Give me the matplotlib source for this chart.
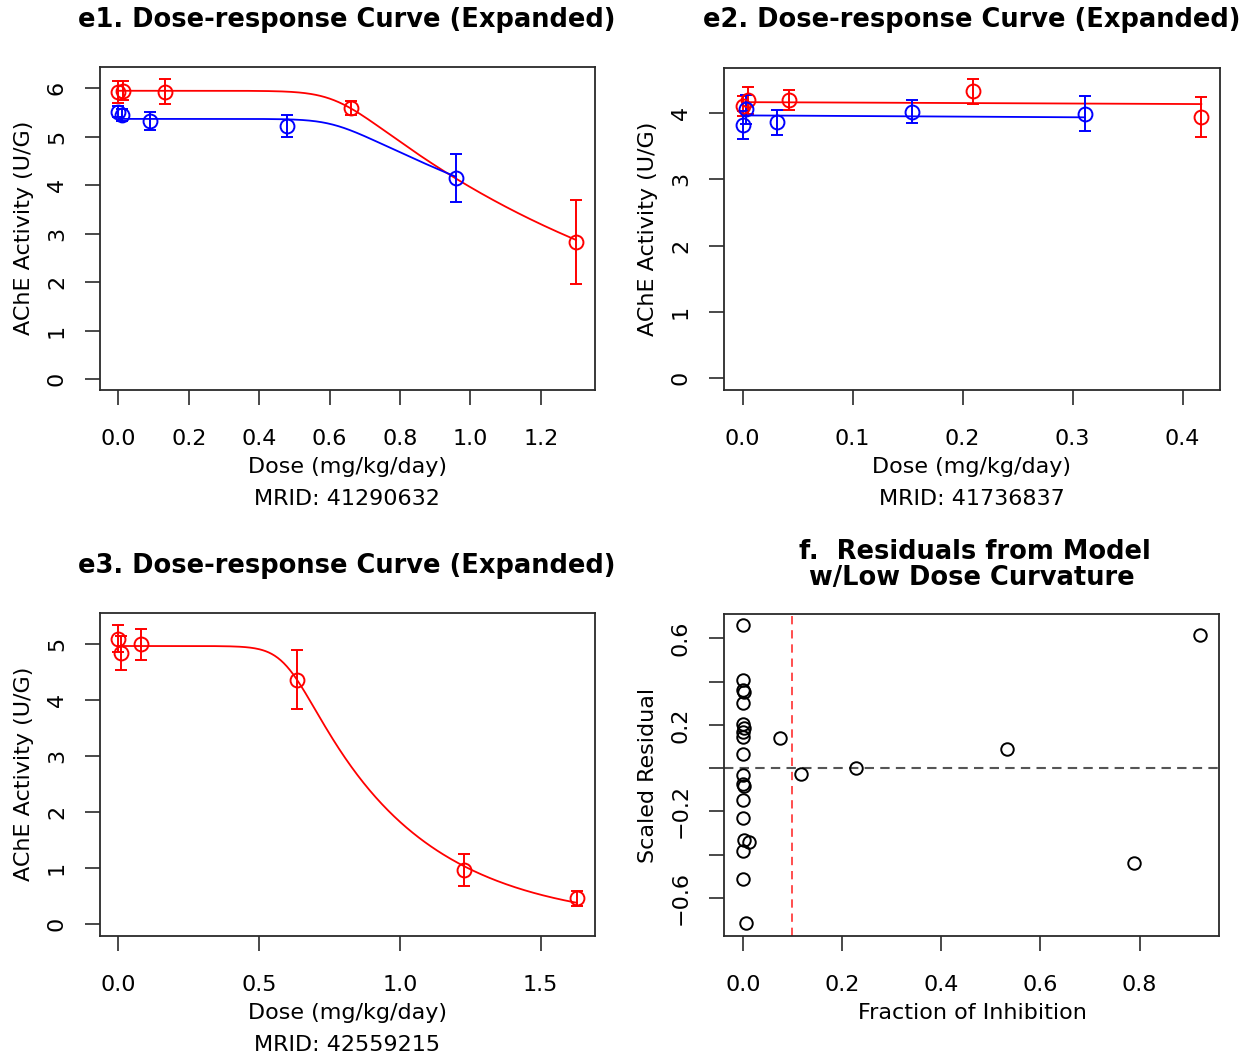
import numpy as np
import matplotlib
matplotlib.use("Agg")
import matplotlib.pyplot as plt

# ---------------- data ----------------
# e1 (MRID 41290632)
e1_red_dose = [0.0, 0.014, 0.133, 0.661, 1.30]
e1_red_resp = [5.93, 5.95, 5.93, 5.59, 2.83]
e1_red_err = [0.23, 0.20, 0.26, 0.14, 0.86]
e1_blue_dose = [0.0, 0.011, 0.09, 0.478, 0.959]
e1_blue_resp = [5.52, 5.45, 5.33, 5.23, 4.15]
e1_blue_err = [0.12, 0.12, 0.18, 0.23, 0.50]
e1_red_fit = [5.95, 1.07, 0.62, 0.05]    # top, rate, threshold, smoothness
e1_blue_fit = [5.37, 0.72, 0.61, 0.045]

# e2 (MRID 41736837)
e2_red_dose = [0.0, 0.0045, 0.0424, 0.209, 0.417]
e2_red_resp = [4.10, 4.19, 4.20, 4.33, 3.94]
e2_red_err = [0.15, 0.20, 0.15, 0.19, 0.30]
e2_blue_dose = [0.0, 0.003, 0.031, 0.154, 0.311]
e2_blue_resp = [3.82, 4.06, 3.86, 4.02, 3.99]
e2_blue_err = [0.21, 0.22, 0.19, 0.17, 0.26]
e2_red_fit = [4.165, 0.017, 0.0, 0.01]
e2_blue_fit = [3.965, 0.024, 0.0, 0.01]

# e3 (MRID 42559215)
e3_red_dose = [0.0, 0.008, 0.08, 0.633, 1.228, 1.628]
e3_red_resp = [5.10, 4.84, 5.00, 4.37, 0.965, 0.46]
e3_red_err = [0.24, 0.30, 0.28, 0.53, 0.29, 0.13]
e3_red_fit = [4.97, 2.5, 0.60, 0.045]

# f residuals
f_fraction = [0.0, 0.0, 0.0, 0.002, 0.0, 0.0, 0.002, 0.0, 0.0, 0.0,
              0.0, 0.0, 0.002, 0.0, 0.0, 0.002, 0.012, 0.0, 0.0, 0.006,
              0.074, 0.117, 0.229, 0.533, 0.788, 0.921]
f_residual = [0.659, 0.409, 0.360, 0.352, 0.299, 0.204, 0.185, 0.165, 0.142, 0.066,
              -0.031, -0.072, -0.084, -0.146, -0.231, -0.333, -0.342, -0.383, -0.513, -0.716,
              0.141, -0.028, 0.003, 0.087, -0.440, 0.616]
f_cutoff = 0.1

titles = ["e1. Dose-response Curve (Expanded)",
          "e2. Dose-response Curve (Expanded)",
          "e3. Dose-response Curve (Expanded)"]
mrids = ["MRID: 41290632", "MRID: 41736837", "MRID: 42559215"]

# ---------------- figure ----------------
W, H = 1255, 1061
plt.rcParams['font.family'] = ['DejaVu Sans']
fig = plt.figure(figsize=(W / 100, H / 100), dpi=100)

FS = 16
TFS = 18.5
FRAME = '#2a2a2a'


def add_ax(l, t, r, b):
    return fig.add_axes([l / W, 1 - b / H, (r - l) / W, (b - t) / H])


def ftext(x, y, s, **kw):
    fig.text(x / W, 1 - y / H, s, ha='center', va='center', **kw)


def fitted(x, p):
    top, rate, thr, w = p
    s = w * np.log1p(np.exp((x - thr) / w))
    return top * np.exp(-rate * s)


def style(ax, xlim, ylim, xt, yt, ylabels=None):
    ax.set_xlim(*xlim)
    ax.set_ylim(*ylim)
    ax.set_xticks(xt)
    ax.set_xticklabels([f"{v:.1f}" for v in xt])
    ax.set_yticks(yt)
    if ylabels is None:
        ylabels = [f"{v:g}" for v in yt]
    ax.set_yticklabels(ylabels, rotation=90, va='center')
    ax.tick_params(direction='out', length=10.8, width=1.2, color=FRAME,
                   labelsize=FS, pad=17)
    ax.tick_params(axis='y', pad=13)
    for sp in ax.spines.values():
        sp.set_color(FRAME)
        sp.set_linewidth(1.3)


def series(ax, dose, resp, err, fitp, color):
    xs = np.linspace(0, max(dose), 300)
    ax.plot(xs, fitted(xs, fitp), color=color, lw=1.3)
    ax.errorbar(dose, resp, yerr=err, fmt='o', mfc='none', mec=color, ecolor=color,
                ms=10, mew=1.4, elinewidth=1.4, capsize=4.5, capthick=1.4)


# e1
ax1 = add_ax(100, 67, 595, 390)
series(ax1, e1_red_dose, e1_red_resp, e1_red_err, e1_red_fit, 'red')
series(ax1, e1_blue_dose, e1_blue_resp, e1_blue_err, e1_blue_fit, 'blue')
style(ax1, (-0.052, 1.354), (-0.22, 6.44), [0, 0.2, 0.4, 0.6, 0.8, 1.0, 1.2], list(range(7)))

# e2
ax2 = add_ax(724, 68, 1220, 390)
series(ax2, e2_red_dose, e2_red_resp, e2_red_err, e2_red_fit, 'red')
series(ax2, e2_blue_dose, e2_blue_resp, e2_blue_err, e2_blue_fit, 'blue')
style(ax2, (-0.017, 0.434), (-0.18, 4.68), [0, 0.1, 0.2, 0.3, 0.4], list(range(5)))

# e3
ax3 = add_ax(100, 613, 595, 936)
series(ax3, e3_red_dose, e3_red_resp, e3_red_err, e3_red_fit, 'red')
style(ax3, (-0.065, 1.693), (-0.214, 5.56), [0, 0.5, 1.0, 1.5], list(range(6)))

# f
ax4 = add_ax(724, 614, 1219, 936)
ax4.axhline(0, color='#555555', lw=1.5, ls=(0, (4.5, 3)), zorder=1)
ax4.axvline(f_cutoff, color='#ff3030', lw=1.2, ls=(0, (5, 3.5)), zorder=1)
ax4.plot(f_fraction, f_residual, 'o', mfc='none', mec='black', ms=9, mew=1.4, zorder=3)
yt4 = [-0.6, -0.4, -0.2, 0.0, 0.2, 0.4, 0.6]
ylab4 = ["\u22120.6", "", "\u22120.2", "", "0.2", "", "0.6"]
style(ax4, (-0.038, 0.96), (-0.775, 0.712), [0, 0.2, 0.4, 0.6, 0.8], yt4, ylab4)

# texts
ftext(347, 20, titles[0], fontsize=TFS, fontweight='bold')
ftext(972, 20, titles[1], fontsize=TFS, fontweight='bold')
ftext(347, 566, titles[2], fontsize=TFS, fontweight='bold')
ftext(975, 552, "f.  Residuals from Model", fontsize=TFS, fontweight='bold')
ftext(972, 578, "w/Low Dose Curvature", fontsize=TFS, fontweight='bold')

ftext(347, 467, "Dose (mg/kg/day)", fontsize=FS)
ftext(347, 499, mrids[0], fontsize=FS)
ftext(972, 467, "Dose (mg/kg/day)", fontsize=FS)
ftext(972, 499, mrids[1], fontsize=FS)
ftext(347, 1013, "Dose (mg/kg/day)", fontsize=FS)
ftext(347, 1045, mrids[2], fontsize=FS)
ftext(972, 1013, "Fraction of Inhibition", fontsize=FS)

ftext(24, 228, "AChE Activity (U/G)", fontsize=FS, rotation=90)
ftext(648, 229, "AChE Activity (U/G)", fontsize=FS, rotation=90)
ftext(24, 774, "AChE Activity (U/G)", fontsize=FS, rotation=90)
ftext(648, 775, "Scaled Residual", fontsize=FS, rotation=90)

fig.savefig("out.png", dpi=100)
